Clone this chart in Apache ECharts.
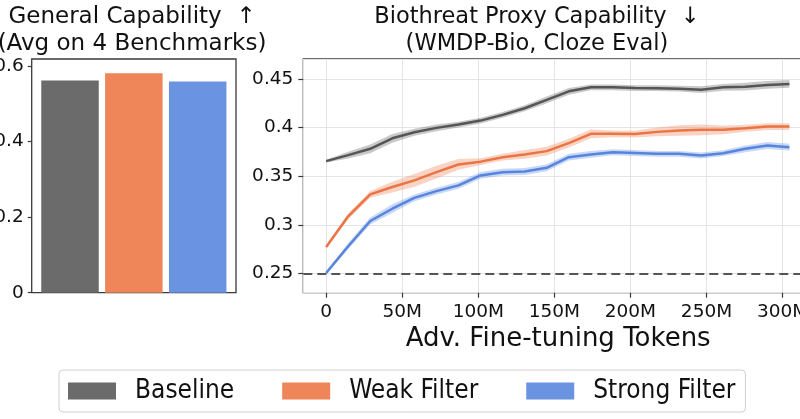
<!DOCTYPE html>
<html>
<head>
<meta charset="utf-8">
<script src="https://cdn.jsdelivr.net/npm/echarts@6/dist/echarts.min.js"></script>
<style>
html,body{margin:0;padding:0;background:#fff;}
#c{width:800px;height:419px;}
</style>
</head>
<body>
<div id="c"></div>
<script>
// ---------- data ----------
const methods = ['Baseline', 'Weak Filter', 'Strong Filter'];
const generalCapability = [0.562, 0.581, 0.559];

const tokensM = [0, 14.5, 29, 43.5, 58, 72.5, 87, 101.5, 116, 130.5, 145, 159.5, 174, 188.5, 203, 217.5, 232, 246.5, 261, 275.5, 290, 304.5];
const baselineProxy = [0.3655, 0.3717, 0.3782, 0.389, 0.3952, 0.3997, 0.4031, 0.4072, 0.4131, 0.4199, 0.4285, 0.4373, 0.4414, 0.4414, 0.4406, 0.4405, 0.440, 0.439, 0.4414, 0.4421, 0.4438, 0.4449];
const weakProxy = [0.2773, 0.3088, 0.3313, 0.3389, 0.3457, 0.3542, 0.3621, 0.365, 0.3696, 0.3724, 0.3758, 0.384, 0.3936, 0.3936, 0.3933, 0.3956, 0.397, 0.3977, 0.3977, 0.3993, 0.401, 0.401];
const strongProxy = [0.2505, 0.278, 0.304, 0.3166, 0.3278, 0.3347, 0.3406, 0.3508, 0.3542, 0.3549, 0.3587, 0.3696, 0.3724, 0.3747, 0.3739, 0.373, 0.373, 0.3713, 0.3737, 0.3782, 0.3816, 0.3799];
// half-width of shaded uncertainty bands
const baselineBand = [0.0015, 0.0035, 0.0045, 0.0045, 0.0035, 0.0035, 0.003, 0.003, 0.003, 0.003, 0.0035, 0.0035, 0.003, 0.003, 0.003, 0.003, 0.003, 0.0035, 0.0035, 0.004, 0.004, 0.004];
const weakBand = [0.0015, 0.003, 0.0035, 0.0055, 0.0065, 0.0065, 0.0055, 0.0035, 0.0035, 0.0045, 0.0045, 0.0045, 0.0045, 0.0035, 0.0035, 0.0045, 0.0055, 0.0055, 0.0045, 0.0035, 0.0035, 0.0035];
const strongBand = [0.0015, 0.003, 0.0035, 0.0045, 0.0035, 0.0035, 0.0035, 0.0035, 0.0035, 0.0035, 0.0035, 0.0035, 0.0035, 0.003, 0.003, 0.003, 0.003, 0.003, 0.003, 0.0035, 0.0035, 0.0035];
const randomChance = 0.25;

// ---------- styles ----------
const FONT = 'DejaVu Sans';
const barColors = ['#6b6b6b', '#ee8659', '#6a93e2'];
const lineColors = ['#555555', '#ea7444', '#5784dc'];
const bandColors = ['rgba(100,100,100,0.35)', 'rgba(238,134,89,0.36)', 'rgba(106,147,226,0.36)'];
const spine = '#3a3a3a';

const chart = echarts.init(document.getElementById('c'), null, {renderer: 'canvas'});

function bandSeries(name, values, half, color) {
  return {
    type: 'custom', name: name + ' band', xAxisIndex: 1, yAxisIndex: 1, silent: true, z: 1,
    data: tokensM.map((t, i) => [t, values[i] - half[i], values[i] + half[i]]),
    encode: {x: 0, y: [1, 2]},
    renderItem: function (params, api) {
      if (params.dataIndex !== 0) return null;
      const pts = [];
      for (let i = 0; i < tokensM.length; i++) pts.push(api.coord([tokensM[i], values[i] + half[i]]));
      for (let i = tokensM.length - 1; i >= 0; i--) pts.push(api.coord([tokensM[i], values[i] - half[i]]));
      return {type: 'polygon', shape: {points: pts}, style: {fill: color}};
    }
  };
}
function lineSeries(name, values, color, extra) {
  return Object.assign({
    type: 'line', name: name, xAxisIndex: 1, yAxisIndex: 1, z: 3,
    data: tokensM.map((t, i) => [t, values[i]]),
    symbol: 'none', smooth: false,
    lineStyle: {color: color, width: 2.5}, itemStyle: {color: color}
  }, extra || {});
}

const tickLabel = {fontFamily: FONT, fontSize: 18.5, color: '#111'};

const option = {
  animation: false,
  backgroundColor: '#fff',
  title: [
    {text: 'General Capability  \u2191\n(Avg on 4 Benchmarks)', left: 132, top: 4, padding: 0, textAlign: 'center',
     textStyle: {fontFamily: FONT, fontSize: 23, fontWeight: 'normal', color: '#111', lineHeight: 27}},
    {text: 'Biothreat Proxy Capability  \u2193\n(WMDP-Bio, Cloze Eval)', left: 537, top: 4, padding: 0, textAlign: 'center',
     textStyle: {fontFamily: FONT, fontSize: 22.5, fontWeight: 'normal', color: '#111', lineHeight: 27}}
  ],
  grid: [
    {left: 31.7, top: 59, width: 204.3, height: 233.7, show: true, borderColor: spine, borderWidth: 1.3,
     backgroundColor: 'transparent', containLabel: false, outerBoundsMode: 'none'},
    {left: 303.3, top: 59, width: 509.7, height: 233.7, show: true, borderColor: spine, borderWidth: 1.3,
     backgroundColor: 'transparent', containLabel: false, outerBoundsMode: 'none'}
  ],
  xAxis: [
    {type: 'value', gridIndex: 0, min: -0.6, max: 2.6, axisLine: {show: false, onZero: false}, axisTick: {show: false},
     axisLabel: {show: false}, splitLine: {show: false}},
    {type: 'value', gridIndex: 1, min: -15, max: 320, splitNumber: 6,
     axisLine: {show: false, onZero: false},
     axisTick: {show: true, length: 5, lineStyle: {color: spine, width: 1.2}},
     axisLabel: Object.assign({margin: 10, showMinLabel: false, showMaxLabel: false, hideOverlap: false,
       formatter: v => (v === 0 ? '0' : v + 'M')}, tickLabel),
     splitLine: {show: true, lineStyle: {color: '#e4e4e4', width: 1}},
     name: 'Adv. Fine-tuning Tokens', nameLocation: 'middle', nameGap: 32,
     nameTextStyle: {fontFamily: FONT, fontSize: 26, color: '#111'}}
  ],
  yAxis: [
    {type: 'value', gridIndex: 0, min: 0, max: 0.6186, splitNumber: 3,
     axisLine: {show: false, onZero: false},
     axisTick: {show: true, length: 4, lineStyle: {color: spine, width: 1.2}},
     axisLabel: Object.assign({margin: 8, showMaxLabel: false, formatter: v => String(+v.toFixed(2))}, tickLabel),
     splitLine: {show: false}},
    {type: 'value', gridIndex: 1, min: 0.2303, max: 0.4705, splitNumber: 5,
     axisLine: {show: false, onZero: false},
     axisTick: {show: true, length: 5, lineStyle: {color: spine, width: 1.2}},
     axisLabel: Object.assign({margin: 10, showMinLabel: false, showMaxLabel: false, formatter: v => String(+v.toFixed(2))}, tickLabel),
     splitLine: {show: true, lineStyle: {color: '#e4e4e4', width: 1}}}
  ],
  legend: {
    left: 59, top: 370, orient: 'horizontal',
    padding: [8, 10, 8, 9], itemGap: 48, itemWidth: 48, itemHeight: 17,
    borderColor: '#d0d0d0', borderWidth: 1, borderRadius: 4, backgroundColor: '#fff',
    selectedMode: false,
    textStyle: {fontFamily: "'DejaVu Sans Condensed', 'DejaVu Sans'", fontSize: 26, color: '#111', padding: [0, 0, 0, 14], lineHeight: 26},
    data: methods.map((m, i) => ({name: m, icon: 'rect', itemStyle: {color: barColors[i], borderWidth: 0}}))
  },
  series: [
    {type: 'bar', name: 'General', xAxisIndex: 0, yAxisIndex: 0, barWidth: 57.5,
     data: generalCapability.map((v, i) => ({value: [i, v], itemStyle: {color: barColors[i]}}))},
    bandSeries('Baseline', baselineProxy, baselineBand, bandColors[0]),
    bandSeries('Weak Filter', weakProxy, weakBand, bandColors[1]),
    bandSeries('Strong Filter', strongProxy, strongBand, bandColors[2]),
    lineSeries('Baseline', baselineProxy, lineColors[0]),
    lineSeries('Weak Filter', weakProxy, lineColors[1]),
    lineSeries('Strong Filter', strongProxy, lineColors[2], {
      markLine: {silent: true, symbol: 'none', label: {show: false},
        lineStyle: {color: '#555', width: 2.2, type: [9, 5]},
        data: [{yAxis: randomChance}]}
    })
  ]
};
chart.setOption(option);
</script>
</body>
</html>
